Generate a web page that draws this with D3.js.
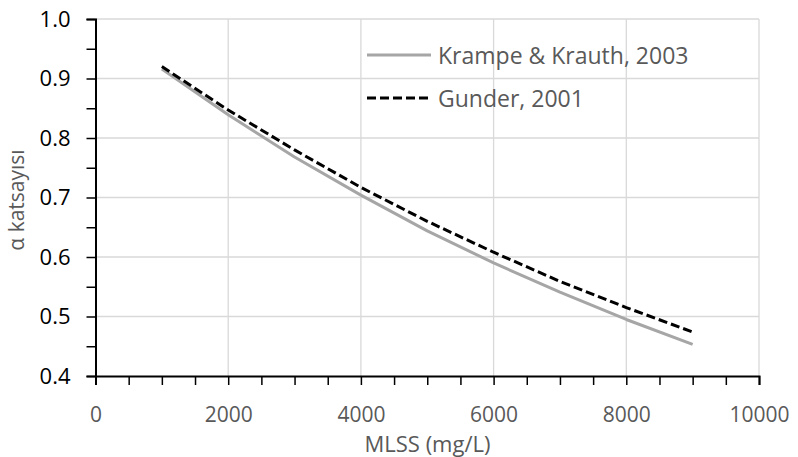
<!DOCTYPE html>
<html>
<head>
<meta charset="utf-8">
<script src="https://cdn.jsdelivr.net/npm/d3@7"></script>
<style>
  body { margin: 0; background: #fff; }
  svg { display: block; }
</style>
</head>
<body>
<div id="graphicContainer"></div>
<script>
// MLSS (mg/L)
var mlss = [1000, 2000, 3000, 4000, 5000, 6000, 7000, 8000, 9000]
// alpha values
var krampe = [0.916, 0.839, 0.768, 0.704, 0.644, 0.590, 0.541, 0.495, 0.453]
var gunder = [0.920, 0.847, 0.780, 0.717, 0.660, 0.608, 0.559, 0.515, 0.474]
var seriesNames = ["Krampe & Krauth, 2003", "Gunder, 2001"]
var xTicks = [0, 2000, 4000, 6000, 8000, 10000]
var yTicks = [0.4, 0.5, 0.6, 0.7, 0.8, 0.9, 1.0]

var width = 798, height = 457
var margin = {top: 19, right: 39, bottom: 81, left: 95.5}

var svg = d3.select("#graphicContainer").append("svg")
  .attr("width", width)
  .attr("height", height)

var font = "'Open Sans', sans-serif"

var x = d3.scaleLinear()
  .domain([0, 10000])
  .range([margin.left, width - margin.right])

var y = d3.scaleLinear()
  .domain([0.4, 1.0])
  .range([height - margin.bottom, margin.top])

// gridlines
svg.append("g")
  .selectAll("line")
  .data(yTicks.slice(1))
  .join("line")
    .attr("x1", x(0)).attr("x2", x(10000))
    .attr("y1", d => y(d)).attr("y2", d => y(d))
    .attr("stroke", "#d9d9d9").attr("stroke-width", 1.3)

svg.append("g")
  .selectAll("line")
  .data(xTicks.slice(1))
  .join("line")
    .attr("x1", d => x(d)).attr("x2", d => x(d))
    .attr("y1", y(0.4)).attr("y2", y(1.0))
    .attr("stroke", "#d9d9d9").attr("stroke-width", 1.3)

// lines
var krampeData = mlss.map((d, i) => ({x: d, y: krampe[i]}))
var gunderData = mlss.map((d, i) => ({x: d, y: gunder[i]}))

var line = d3.line().x(d => x(d.x)).y(d => y(d.y))

svg.append("path")
  .datum(krampeData)
  .attr("fill", "none")
  .attr("stroke", "#a6a6a6")
  .attr("stroke-width", 3)
  .attr("stroke-linejoin", "round")
  .attr("d", line)

svg.append("path")
  .datum(gunderData)
  .attr("fill", "none")
  .attr("stroke", "#000")
  .attr("stroke-width", 3)
  .attr("stroke-dasharray", "9,4")
  .attr("d", line)

// axes
var xAxis = d3.axisBottom(x)
  .tickValues(d3.range(0, 10001, 500))
  .tickSize(9)
  .tickFormat(d => xTicks.includes(d) ? d : "")

var gx = svg.append("g")
  .attr("transform", `translate(0,${y(0.4)})`)
  .call(xAxis)
gx.select(".domain").attr("stroke", "#000").attr("stroke-width", 2)
gx.selectAll(".tick line").attr("stroke", "#000").attr("stroke-width", 1.5)
gx.selectAll(".tick text")
  .attr("fill", "#595959")
  .attr("font-family", font)
  .attr("font-size", 21)
  .attr("y", 0)
  .attr("dy", 0)
  .attr("dominant-baseline", "central")
  .attr("transform", "translate(0,37.5)")

var yAxis = d3.axisLeft(y)
  .tickValues(d3.range(0, 13).map(i => 0.4 + i * 0.05))
  .tickSize(9)
  .tickFormat(d => yTicks.some(t => Math.abs(t - d) < 1e-6) ? d.toFixed(1) : "")

var gy = svg.append("g")
  .attr("transform", `translate(${x(0)},0)`)
  .call(yAxis)
gy.select(".domain").attr("stroke", "#000").attr("stroke-width", 2)
gy.selectAll(".tick line").attr("stroke", "#000").attr("stroke-width", 1.5)
gy.selectAll(".tick text")
  .attr("fill", "#000")
  .attr("font-family", font)
  .attr("font-size", 22)
  .attr("x", -25)

// axis titles
svg.append("text")
  .attr("x", 427.5)
  .attr("y", 443)
  .attr("dominant-baseline", "central")
  .attr("text-anchor", "middle")
  .attr("fill", "#595959")
  .attr("font-family", font)
  .attr("font-size", 22)
  .text("MLSS (mg/L)")

svg.append("text")
  .attr("transform", `translate(16,200) rotate(-90)`)
  .attr("dominant-baseline", "central")
  .attr("text-anchor", "middle")
  .attr("fill", "#595959")
  .attr("font-family", font)
  .attr("font-size", 21)
  .text("α katsayısı")

// legend
var legend = svg.append("g")
var legendRows = [
  {name: seriesNames[0], color: "#a6a6a6", dash: null},
  {name: seriesNames[1], color: "#000", dash: "9,4"}
]
legendRows.forEach((d, i) => {
  var ly = 55 + i * 43
  legend.append("line")
    .attr("x1", 367).attr("x2", 431)
    .attr("y1", ly).attr("y2", ly)
    .attr("stroke", d.color)
    .attr("stroke-width", 3)
    .attr("stroke-dasharray", d.dash)
  legend.append("text")
    .attr("x", 438)
    .attr("y", ly)
    .attr("dominant-baseline", "central")
    .attr("fill", "#595959")
    .attr("font-family", font)
    .attr("font-size", 23)
    .text(d.name)
})
</script>
</body>
</html>
